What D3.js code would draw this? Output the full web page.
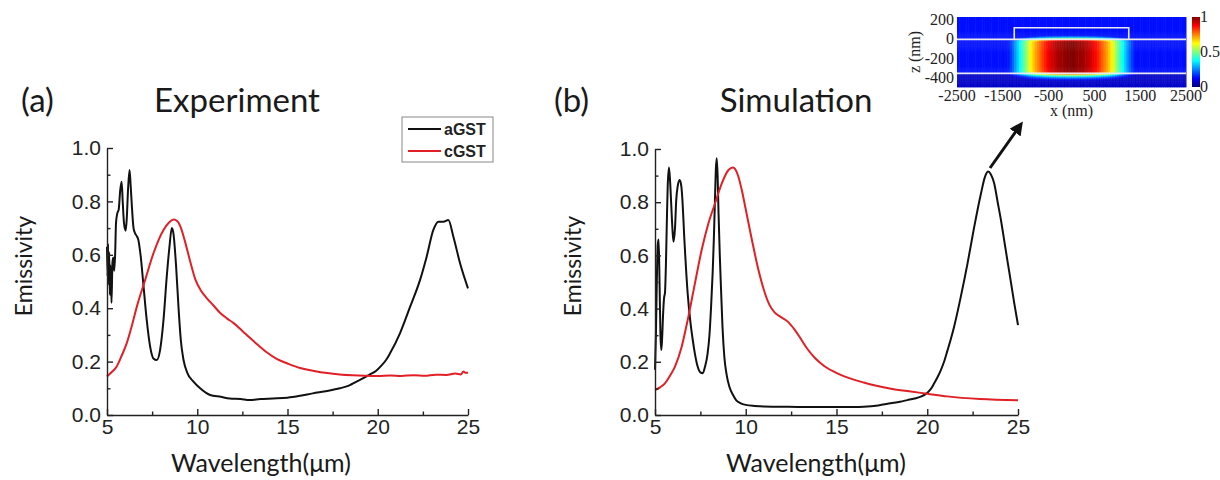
<!DOCTYPE html>
<html lang="en">

<head>
	<meta charset="utf-8">
	<title>emissivity aGST / cGST</title>
	<style>
		html, body { margin: 0; padding: 0; background: #fff; }
		svg { display: block; }
	</style>
</head>

<body>
	<script src="https://cdn.jsdelivr.net/npm/d3@7/dist/d3.min.js"></script>
	<script>
		// [wavelength um, emissivity]
		const expA = [[5.0,0.63],[5.03,0.52],[5.06,0.64],[5.09,0.49],[5.12,0.61],[5.16,0.45],[5.2,0.56],[5.25,0.42],[5.3,0.57],[5.35,0.59],[5.4,0.54],[5.45,0.6],[5.5,0.72],[5.57,0.755],[5.65,0.77],[5.73,0.84],[5.81,0.874],[5.87,0.8],[5.94,0.72],[6.03,0.69],[6.09,0.73],[6.17,0.85],[6.25,0.918],[6.31,0.86],[6.38,0.78],[6.47,0.7],[6.56,0.68],[6.65,0.67],[6.74,0.655],[6.8,0.63],[6.87,0.593],[7.01,0.493],[7.2,0.356],[7.39,0.256],[7.57,0.212],[7.76,0.206],[7.94,0.243],[8.13,0.356],[8.31,0.518],[8.46,0.63],[8.59,0.7],[8.68,0.68],[8.83,0.555],[8.96,0.405],[9.09,0.28],[9.24,0.206],[9.46,0.156],[9.79,0.125],[10.16,0.1],[10.71,0.075],[11.3,0.068],[11.8,0.062],[12.4,0.06],[12.9,0.056],[13.5,0.06],[14.2,0.062],[15.0,0.065],[15.7,0.072],[16.4,0.081],[17.2,0.09],[17.9,0.1],[18.4,0.11],[18.83,0.125],[19.2,0.138],[19.57,0.152],[19.9,0.165],[20.2,0.185],[20.45,0.205],[20.68,0.231],[21.23,0.306],[21.79,0.405],[22.34,0.505],[22.71,0.593],[23.08,0.693],[23.36,0.724],[23.64,0.724],[23.91,0.73],[24.19,0.668],[24.56,0.568],[25.0,0.474]];
		const expC = [[5.0,0.144],[5.25,0.16],[5.52,0.18],[5.8,0.22],[6.09,0.268],[6.4,0.34],[6.65,0.405],[7.11,0.505],[7.57,0.605],[8.13,0.693],[8.45,0.722],[8.7,0.732],[8.9,0.726],[9.1,0.7],[9.3,0.655],[9.61,0.575],[9.9,0.507],[10.2,0.466],[10.5,0.44],[10.9,0.41],[11.26,0.383],[11.64,0.362],[12.0,0.345],[12.5,0.315],[12.9,0.29],[13.4,0.26],[13.85,0.235],[14.4,0.21],[15.0,0.193],[15.7,0.176],[16.4,0.166],[17.2,0.157],[17.9,0.152],[18.6,0.149],[19.3,0.147],[20.0,0.146],[20.7,0.148],[21.3,0.146],[22.0,0.149],[22.6,0.147],[23.2,0.151],[23.8,0.15],[24.3,0.155],[24.6,0.152],[24.75,0.163],[24.85,0.158],[25.0,0.158]];
		const simA = [[5.0,0.17],[5.05,0.3],[5.1,0.5],[5.15,0.64],[5.2,0.66],[5.25,0.5],[5.3,0.3],[5.35,0.244],[5.4,0.3],[5.44,0.37],[5.5,0.44],[5.55,0.46],[5.6,0.56],[5.65,0.72],[5.7,0.86],[5.77,0.93],[5.83,0.88],[5.9,0.783],[5.96,0.7],[6.02,0.651],[6.1,0.7],[6.17,0.808],[6.25,0.86],[6.36,0.883],[6.45,0.86],[6.5,0.82],[6.62,0.658],[6.8,0.457],[6.95,0.35],[7.08,0.282],[7.2,0.23],[7.35,0.182],[7.5,0.16],[7.63,0.157],[7.75,0.18],[7.9,0.232],[8.0,0.3],[8.09,0.407],[8.18,0.54],[8.24,0.658],[8.3,0.8],[8.35,0.92],[8.4,0.965],[8.45,0.9],[8.5,0.76],[8.57,0.6],[8.64,0.47],[8.72,0.33],[8.82,0.219],[8.95,0.15],[9.1,0.106],[9.3,0.075],[9.47,0.056],[9.7,0.045],[10.0,0.038],[10.5,0.034],[11,0.032],[12,0.031],[13,0.03],[14,0.03],[15,0.03],[16,0.03],[16.5,0.031],[17.3,0.036],[17.98,0.044],[18.5,0.05],[18.9,0.056],[19.3,0.062],[19.64,0.069],[20.01,0.084],[20.2,0.098],[20.38,0.119],[20.55,0.14],[20.75,0.169],[20.95,0.205],[21.12,0.244],[21.3,0.286],[21.48,0.332],[21.85,0.445],[22.22,0.57],[22.59,0.708],[22.96,0.833],[23.18,0.895],[23.36,0.915],[23.5,0.905],[23.69,0.87],[23.88,0.8],[24.06,0.733],[24.25,0.652],[24.43,0.575],[24.62,0.495],[24.8,0.418],[25.0,0.338]];
		const simC = [[5.0,0.094],[5.3,0.105],[5.55,0.119],[5.85,0.15],[6.1,0.182],[6.47,0.257],[6.84,0.37],[7.2,0.495],[7.57,0.62],[7.94,0.72],[8.31,0.796],[8.68,0.871],[9.05,0.921],[9.3,0.93],[9.55,0.905],[9.8,0.84],[9.97,0.783],[10.34,0.658],[10.7,0.545],[11.0,0.47],[11.3,0.415],[11.6,0.385],[11.9,0.37],[12.3,0.352],[12.7,0.32],[13.0,0.29],[13.4,0.248],[13.8,0.215],[14.3,0.185],[15.2,0.152],[16.5,0.122],[18.0,0.099],[19.0,0.089],[20.0,0.08],[21.1,0.07],[22.9,0.06],[25.0,0.055]];

		const yTicks = [0, 0.2, 0.4, 0.6, 0.8, 1.0];
		const yMinor = [0.1, 0.3, 0.5, 0.7, 0.9];
		const xTicks = [5, 10, 15, 20, 25];
		const xMinor = [7.5, 12.5, 17.5, 22.5];
		const legendNames = ['aGST', 'cGST'];
		const seriesColors = ['#111111', '#e02026'];

		// inset: field profile across x (nm, |x|) and through z (nm)
		const fieldX = [0, 300, 500, 650, 800, 900, 1000, 1100, 1200, 1300, 1400, 1550, 2500];
		const fieldXVal = [1, 0.96, 0.89, 0.8, 0.7, 0.62, 0.5, 0.4, 0.3, 0.2, 0.13, 0.08, 0.05];
		const fieldZ = [230, 110, 50, 25, 8, 0, -20, -330, -350, -365, -385, -410, -440, -490];
		const fieldZVal = [0, 0, 0.08, 0.3, 0.6, 0.85, 1, 1, 0.85, 0.55, 0.3, 0.12, 0.03, 0];
		const insetXTicks = [-2500, -1500, -500, 500, 1500, 2500];
		const insetZTicks = [200, 0, -200, -400];
		const barTicks = [0, 0.5, 1];

		const W = 1220, H = 480;
		const svg = d3.select('body').append('svg')
			.attr('width', W)
			.attr('height', H);

		const panels = [
			{ tag: '(a)', title: 'Experiment', series: [expA, expC], left: 107, right: 468, top: 148, bottom: 415,
				tagX: 21, titleX: 237, yLabX: 24, xLabX: 261, legend: true },
			{ tag: '(b)', title: 'Simulation', series: [simA, simC], left: 655, right: 1018, top: 149, bottom: 415,
				tagX: 554, titleX: 796, yLabX: 573, xLabX: 816, legend: false },
		];

		panels.forEach(drawPanel);
		drawInset();

		function drawPanel(p) {
			const x = d3.scaleLinear().domain([5, 25]).range([p.left, p.right]);
			const y = d3.scaleLinear().domain([0, 1]).range([p.bottom, p.top]);
			const g = svg.append('g');

			const line = d3.line()
				.x(d => x(d[0]))
				.y(d => y(d[1]))
				.curve(d3.curveMonotoneX);

			g.selectAll('path.series')
				.data(p.series)
				.join('path')
				.attr('class', 'series')
				.attr('fill', 'none')
				.attr('stroke', (d, i) => seriesColors[i])
				.attr('stroke-width', 2)
				.attr('stroke-linejoin', 'round')
				.attr('d', line);

			// axes, ticks pointing inward
			const yAxis = g.append('g')
				.attr('transform', `translate(${p.left},0)`)
				.call(d3.axisLeft(y).tickValues(yTicks).tickFormat(d3.format('.1f'))
					.tickSize(-6).tickSizeOuter(0).tickPadding(6));
			g.append('g')
				.attr('transform', `translate(${p.left},0)`)
				.call(d3.axisLeft(y).tickValues(yMinor).tickFormat('').tickSize(-3.5).tickSizeOuter(0))
				.call(a => a.select('.domain').remove());
			const xAxis = g.append('g')
				.attr('transform', `translate(0,${p.bottom})`)
				.call(d3.axisBottom(x).tickValues(xTicks).tickFormat(d3.format('d'))
					.tickSize(-6).tickSizeOuter(0).tickPadding(4));
			g.append('g')
				.attr('transform', `translate(0,${p.bottom})`)
				.call(d3.axisBottom(x).tickValues(xMinor).tickFormat('').tickSize(-3.5).tickSizeOuter(0))
				.call(a => a.select('.domain').remove());

			g.selectAll('.domain, .tick line')
				.attr('stroke', '#222')
				.attr('stroke-width', 1.4);
			[yAxis, xAxis].forEach(a => a.selectAll('text')
				.attr('font-family', '"Liberation Sans", Arial, sans-serif')
				.attr('font-size', 21)
				.attr('fill', '#222'));

			// labels
			const label = (txt, tx, ty, size) => g.append('text')
				.attr('x', tx).attr('y', ty)
				.attr('font-family', 'Lato, "Open Sans", sans-serif')
				.attr('font-size', size)
				.attr('fill', '#1a1a1a')
				.text(txt);

			label(p.tag, p.tagX, 112, 33);
			label(p.title, p.titleX, 112, 33).attr('text-anchor', 'middle');
			label('Wavelength(\u03bcm)', p.xLabX, 472, 25).attr('text-anchor', 'middle');
			label('Emissivity', 0, 0, 23)
				.attr('text-anchor', 'middle')
				.attr('transform', `translate(${p.yLabX + 8},266) rotate(-90)`);

			if (p.legend) {
				const lg = g.append('g').attr('transform', 'translate(402,117)');
				lg.append('rect')
					.attr('width', 91).attr('height', 45)
					.attr('fill', '#fff')
					.attr('stroke', '#888')
					.attr('stroke-width', 1);
				const item = lg.selectAll('g.item')
					.data(legendNames)
					.join('g')
					.attr('class', 'item')
					.attr('transform', (d, i) => `translate(0,${12 + i * 22})`);
				item.append('line')
					.attr('x1', 6).attr('x2', 39)
					.attr('stroke', (d, i) => seriesColors[i])
					.attr('stroke-width', 2);
				item.append('text')
					.attr('x', 42).attr('y', 5.5)
					.attr('font-family', '"Liberation Sans", Arial, sans-serif')
					.attr('font-weight', 'bold')
					.attr('font-size', 16)
					.attr('fill', '#222')
					.text(d => d);
			}
		}

		function drawInset() {
			const hx = d3.scaleLinear().domain([-2500, 2500]).range([957, 1186]);
			const hz = d3.scaleLinear().domain([-490, 230]).range([87, 17]);
			const jet = d3.scaleLinear()
				.domain([0, 0.125, 0.375, 0.625, 0.875, 1])
				.range(['#00007f', '#0000ff', '#00ffff', '#ffff00', '#ff0000', '#7f0000'])
				.clamp(true);
			const fx = d3.scaleLinear().domain(fieldX).range(fieldXVal).clamp(true);
			const fz = d3.scaleLinear().domain(fieldZ).range(fieldZVal).clamp(true);
			const bg = z => (z < -350 ? 0.07 : 0.14);

			const g = svg.append('g');
			const cells = [];
			for (let xv = -2500; xv < 2500; xv += 50) {
				for (let zv = -490; zv < 230; zv += 10) {
					const xc = xv + 25, zc = zv + 5;
					cells.push({ x0: xv, z0: zv, v: Math.max(bg(zc), fx(Math.abs(xc)) * fz(zc)) });
				}
			}
			g.selectAll('rect.cell')
				.data(cells)
				.join('rect')
				.attr('class', 'cell')
				.attr('x', d => hx(d.x0))
				.attr('y', d => hz(d.z0 + 10))
				.attr('width', hx(50) - hx(0) + 0.4)
				.attr('height', hz(0) - hz(10) + 0.4)
				.attr('fill', d => jet(d.v));

			// structure outline
			const outline = '#e8e8f0';
			[0, -350].forEach(zv => g.append('line')
				.attr('x1', hx(-2500)).attr('x2', hx(2500))
				.attr('y1', hz(zv)).attr('y2', hz(zv))
				.attr('stroke', outline).attr('stroke-width', 1.6));
			g.append('path')
				.attr('d', `M${hx(-1250)},${hz(0)}V${hz(120)}H${hx(1250)}V${hz(0)}`)
				.attr('fill', 'none')
				.attr('stroke', outline).attr('stroke-width', 1.6);

			// colour bar
			const grad = svg.append('defs').append('linearGradient')
				.attr('id', 'jet').attr('x1', 0).attr('x2', 0).attr('y1', 1).attr('y2', 0);
			grad.selectAll('stop')
				.data(d3.range(0, 1.001, 0.125))
				.join('stop')
				.attr('offset', d => d)
				.attr('stop-color', d => jet(d));
			const cb = d3.scaleLinear().domain([0, 1]).range([87, 17]);
			g.append('rect')
				.attr('x', 1192).attr('y', 17)
				.attr('width', 8).attr('height', 70)
				.attr('fill', 'url(#jet)');

			const serif = '"Liberation Serif", "Times New Roman", serif';
			const txt = (sel) => sel
				.attr('font-family', serif)
				.attr('font-size', 16)
				.attr('fill', '#222');

			g.selectAll('text.cb')
				.data(barTicks)
				.join('text')
				.attr('class', 'cb')
				.attr('x', 1200)
				.attr('y', d => cb(d) + 5)
				.text(d => d)
				.call(txt);
			g.selectAll('text.zt')
				.data(insetZTicks)
				.join('text')
				.attr('class', 'zt')
				.attr('x', 954)
				.attr('y', d => hz(d) + 5)
				.attr('text-anchor', 'end')
				.text(d => d)
				.call(txt);
			g.selectAll('text.xt')
				.data(insetXTicks)
				.join('text')
				.attr('class', 'xt')
				.attr('x', d => hx(d))
				.attr('y', 101)
				.attr('text-anchor', 'middle')
				.text(d => d)
				.call(txt);
			g.append('text')
				.attr('x', hx(0))
				.attr('y', 116)
				.attr('text-anchor', 'middle')
				.text('x (nm)')
				.call(txt);
			g.append('text')
				.attr('transform', `translate(920,${hz(-130)}) rotate(-90)`)
				.attr('text-anchor', 'middle')
				.text('z (nm)')
				.call(txt);

			// arrow from the simulated 23.4 um peak to the inset
			svg.append('defs').append('marker')
				.attr('id', 'head')
				.attr('viewBox', '0 0 10 10')
				.attr('refX', 5).attr('refY', 5)
				.attr('markerWidth', 4.5).attr('markerHeight', 4.5)
				.attr('orient', 'auto')
				.append('path')
				.attr('d', 'M0,0L10,5L0,10z')
				.attr('fill', '#111');
			svg.append('line')
				.attr('x1', 990).attr('y1', 168)
				.attr('x2', 1019).attr('y2', 127)
				.attr('stroke', '#111')
				.attr('stroke-width', 3)
				.attr('marker-end', 'url(#head)');
		}
	</script>
</body>

</html>
